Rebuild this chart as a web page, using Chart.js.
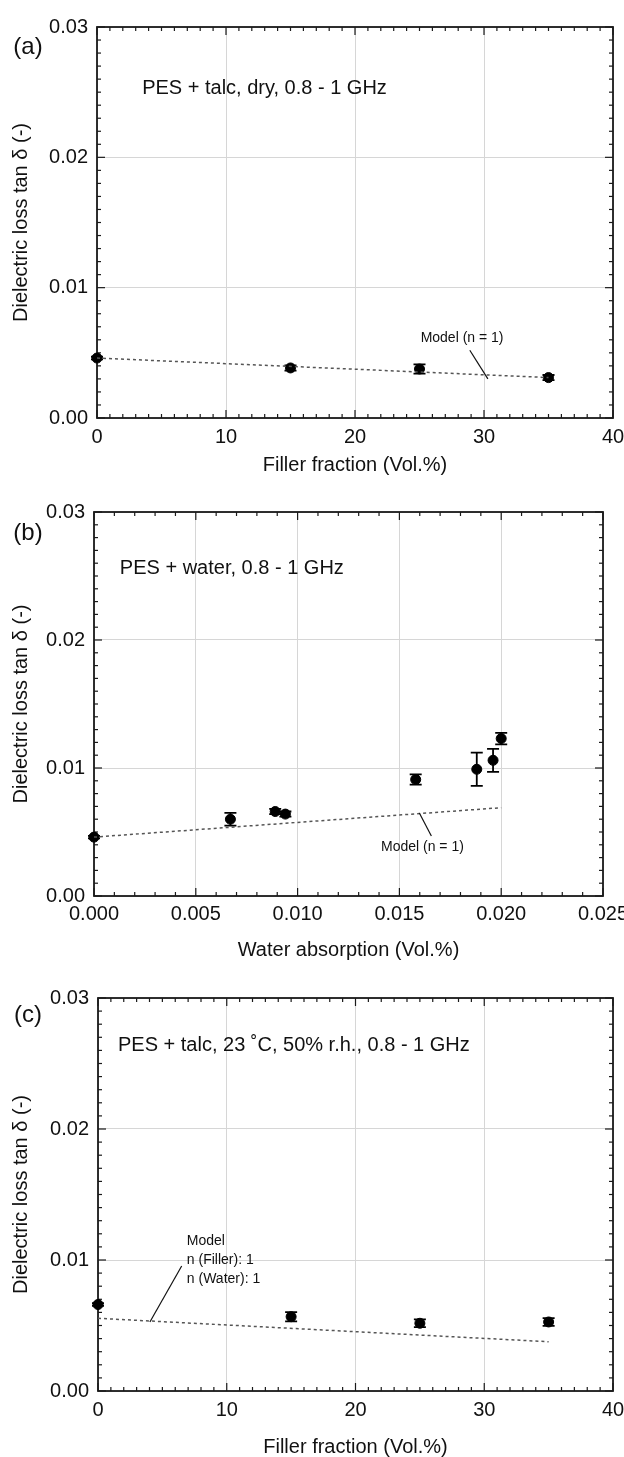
<!DOCTYPE html>
<html>
<head>
<meta charset="utf-8">
<script src="https://cdn.jsdelivr.net/npm/chart.js@4.4.0/dist/chart.umd.min.js"></script>
<style>
  body { margin: 0; background: #fff; }
  #wrap { position: relative; width: 624px; height: 1457px; }
  canvas { position: absolute; left: 0; }
</style>
</head>
<body>
<div id="wrap">
  <canvas id="panelA" width="624" height="485" style="top:0"></canvas>
  <canvas id="panelB" width="624" height="485" style="top:485px"></canvas>
  <canvas id="panelC" width="624" height="487" style="top:970px"></canvas>
</div>
<script>
const FONT = '"Liberation Sans", Arial, sans-serif';

// shared y axis
const yTicks = [0, 0.01, 0.02, 0.03];
const yTickLabels = ['0.00', '0.01', '0.02', '0.03'];

// filler fraction axis (a) and (c)
const fillerTicks = [0, 10, 20, 30, 40];
const fillerTickLabels = ['0', '10', '20', '30', '40'];

// (a) PES + talc, dry
const fillerA = [0, 15, 25, 35];
const lossA = [0.0046, 0.00384, 0.00376, 0.0031];
const errA = [0.0001, 0.0002, 0.00035, 0.0002];
const modelAx = [0, 35];
const modelAy = [0.0046, 0.0031];

// (b) PES + water
const waterTicks = [0, 0.005, 0.01, 0.015, 0.02, 0.025];
const waterTickLabels = ['0.000', '0.005', '0.010', '0.015', '0.020', '0.025'];
const waterB = [0, 0.0067, 0.0089, 0.0094, 0.0158, 0.0188, 0.0196, 0.0200];
const lossB = [0.0046, 0.0060, 0.0066, 0.0064, 0.0091, 0.0099, 0.0106, 0.0123];
const errB = [0.0001, 0.0005, 0.0002, 0.0002, 0.0004, 0.0013, 0.0009, 0.00045];
const modelBx = [0, 0.020];
const modelBy = [0.0046, 0.0069];

// (c) PES + talc, 23 °C, 50% r.h.
const fillerC = [0, 15, 25, 35];
const lossC = [0.0066, 0.00567, 0.00517, 0.00527];
const errC = [0.0001, 0.00035, 0.0003, 0.0003];
const modelCx = [0, 35];
const modelCy = [0.00555, 0.00376];

const panels = [
  {
    id: 'panelA', letter: '(a)', letterDy: 20,
    xs: fillerA, ys: lossA, errs: errA, mx: modelAx, my: modelAy,
    xTicks: fillerTicks, xLabels: fillerTickLabels, xMax: 40, xMinor: 1,
    xTitle: 'Filler fraction (Vol.%)',
    pad: { top: 27, right: 11 }, yW: 97, xH: 67, tickPad: 7, titlePad: 10,
    note: { x: 3.5, y: 0.0253, text: 'PES + talc, dry, 0.8 - 1 GHz' },
    model: { x: 28.3, y: 0.0061, align: 'center', lines: ['Model (n = 1)'] },
    leader: [[28.9, 0.0052], [30.3, 0.0030]]
  },
  {
    id: 'panelB', letter: '(b)', letterDy: 21,
    xs: waterB, ys: lossB, errs: errB, mx: modelBx, my: modelBy,
    xTicks: waterTicks, xLabels: waterTickLabels, xMax: 0.025, xMinor: 0.001,
    xTitle: 'Water absorption (Vol.%)',
    pad: { top: 27, right: 21 }, yW: 94, xH: 74, tickPad: 6, titlePad: 10,
    note: { x: 0.00127, y: 0.02555, text: 'PES + water, 0.8 - 1 GHz' },
    model: { x: 0.01613, y: 0.00383, align: 'center', lines: ['Model (n = 1)'] },
    leader: [[0.01598, 0.00648], [0.01657, 0.00469]]
  },
  {
    id: 'panelC', letter: '(c)', letterDy: 17,
    xs: fillerC, ys: lossC, errs: errC, mx: modelCx, my: modelCy,
    xTicks: fillerTicks, xLabels: fillerTickLabels, xMax: 40, xMinor: 1,
    xTitle: 'Filler fraction (Vol.%)',
    pad: { top: 28, right: 11 }, yW: 98, xH: 66, tickPad: 7, titlePad: 0,
    note: { x: 1.55, y: 0.02641, text: 'PES + talc, 23 \u02DAC, 50% r.h., 0.8 - 1 GHz' },
    model: { x: 6.9, y: 0.01145, align: 'left', lines: ['Model', 'n (Filler): 1', 'n (Water): 1'] },
    leader: [[6.5, 0.00954], [4.03, 0.00527]]
  }
];

function makePanel(p) {
  const ctx = document.getElementById(p.id);

  // frame, inward major/minor ticks and error bars
  const frame = {
    id: 'frame',
    beforeDatasetsDraw(chart) {
      const { ctx, chartArea: a, scales: { x, y } } = chart;
      ctx.save();
      ctx.strokeStyle = '#1a1a1a';
      ctx.lineWidth = 1.2;
      const tick = (px, py, dx, dy) => {
        ctx.beginPath(); ctx.moveTo(px, py); ctx.lineTo(px + dx, py + dy); ctx.stroke();
      };
      const nx = Math.round(p.xMax / p.xMinor);
      for (let i = 0; i <= nx; i++) {
        const v = i * p.xMinor;
        const px = x.getPixelForValue(v);
        const major = p.xTicks.some(t => Math.abs(t - v) < p.xMinor / 10);
        const len = major ? 8 : 4;
        tick(px, a.bottom, 0, -len);
        tick(px, a.top, 0, len);
      }
      for (let i = 0; i <= 30; i++) {
        const v = i * 0.001;
        const py = y.getPixelForValue(v);
        const len = i % 10 === 0 ? 8 : 4;
        tick(a.left, py, len, 0);
        tick(a.right, py, -len, 0);
      }
      ctx.lineWidth = 1.8;
      ctx.strokeRect(a.left, a.top, a.right - a.left, a.bottom - a.top);

      // error bars
      ctx.lineWidth = 1.8;
      ctx.strokeStyle = '#000';
      p.xs.forEach((xv, i) => {
        const px = x.getPixelForValue(xv);
        const top = y.getPixelForValue(p.ys[i] + p.errs[i]);
        const bot = y.getPixelForValue(p.ys[i] - p.errs[i]);
        ctx.beginPath();
        ctx.moveTo(px, top); ctx.lineTo(px, bot);
        ctx.moveTo(px - 6, top); ctx.lineTo(px + 6, top);
        ctx.moveTo(px - 6, bot); ctx.lineTo(px + 6, bot);
        ctx.stroke();
      });
      ctx.restore();
    }
  };

  // panel letter, condition note, model label and its leader line
  const notes = {
    id: 'notes',
    afterDraw(chart) {
      const { ctx, chartArea: a, scales: { x, y } } = chart;
      ctx.save();
      ctx.fillStyle = '#111';
      ctx.textBaseline = 'middle';
      ctx.font = '24px ' + FONT;
      ctx.textAlign = 'center';
      ctx.fillText(p.letter, 28, a.top + p.letterDy);

      ctx.font = '20px ' + FONT;
      ctx.textAlign = 'left';
      ctx.fillText(p.note.text, x.getPixelForValue(p.note.x), y.getPixelForValue(p.note.y));

      ctx.font = '14px ' + FONT;
      ctx.textAlign = p.model.align;
      p.model.lines.forEach((t, i) => {
        ctx.fillText(t, x.getPixelForValue(p.model.x), y.getPixelForValue(p.model.y) + i * 19);
      });

      ctx.strokeStyle = '#111';
      ctx.lineWidth = 1.2;
      ctx.beginPath();
      ctx.moveTo(x.getPixelForValue(p.leader[0][0]), y.getPixelForValue(p.leader[0][1]));
      ctx.lineTo(x.getPixelForValue(p.leader[1][0]), y.getPixelForValue(p.leader[1][1]));
      ctx.stroke();
      ctx.restore();
    }
  };

  new Chart(ctx, {
    type: 'scatter',
    data: {
      datasets: [
        {
          label: 'Model',
          data: p.mx.map((v, i) => ({ x: v, y: p.my[i] })),
          showLine: true,
          borderColor: '#555',
          borderWidth: 1.5,
          borderDash: [3, 3],
          pointRadius: 0,
          clip: false
        },
        {
          label: 'Measured',
          data: p.xs.map((v, i) => ({ x: v, y: p.ys[i] })),
          backgroundColor: '#000',
          borderColor: '#000',
          pointRadius: 5,
          pointHoverRadius: 5,
          clip: false
        }
      ]
    },
    options: {
      responsive: false,
      devicePixelRatio: 1,
      animation: false,
      events: [],
      layout: { padding: { top: p.pad.top, right: p.pad.right, left: 0, bottom: 0 } },
      plugins: { legend: { display: false }, tooltip: { enabled: false } },
      scales: {
        x: {
          type: 'linear',
          min: 0,
          max: p.xMax,
          afterBuildTicks: s => { s.ticks = p.xTicks.map(v => ({ value: v })); },
          afterFit: s => { s.height = p.xH; s.paddingLeft = 0; s.paddingRight = 0; },
          grid: { color: '#d6d6d6', lineWidth: 1, drawTicks: false },
          border: { display: false },
          ticks: {
            color: '#111',
            padding: p.tickPad,
            maxRotation: 0,
            font: { family: FONT, size: 20 },
            callback: (v, i) => p.xLabels[i]
          },
          title: {
            display: true,
            text: p.xTitle,
            color: '#111',
            font: { family: FONT, size: 20, lineHeight: 1 },
            padding: { top: 0, bottom: p.titlePad }
          }
        },
        y: {
          type: 'linear',
          min: 0,
          max: 0.03,
          afterBuildTicks: s => { s.ticks = yTicks.map(v => ({ value: v })); },
          afterFit: s => { s.width = p.yW; s.paddingTop = 0; s.paddingBottom = 0; },
          grid: { color: '#d6d6d6', lineWidth: 1, drawTicks: false },
          border: { display: false },
          ticks: {
            color: '#111',
            padding: 9,
            font: { family: FONT, size: 20 },
            callback: (v, i) => yTickLabels[i]
          },
          title: {
            display: true,
            text: 'Dielectric loss tan \u03B4 (-)',
            color: '#111',
            font: { family: FONT, size: 20, lineHeight: 1 },
            padding: { top: 11, bottom: 0 }
          }
        }
      }
    },
    plugins: [frame, notes]
  });
}

document.addEventListener('DOMContentLoaded', () => {
  panels.forEach(makePanel);
});
</script>
</body>
</html>
